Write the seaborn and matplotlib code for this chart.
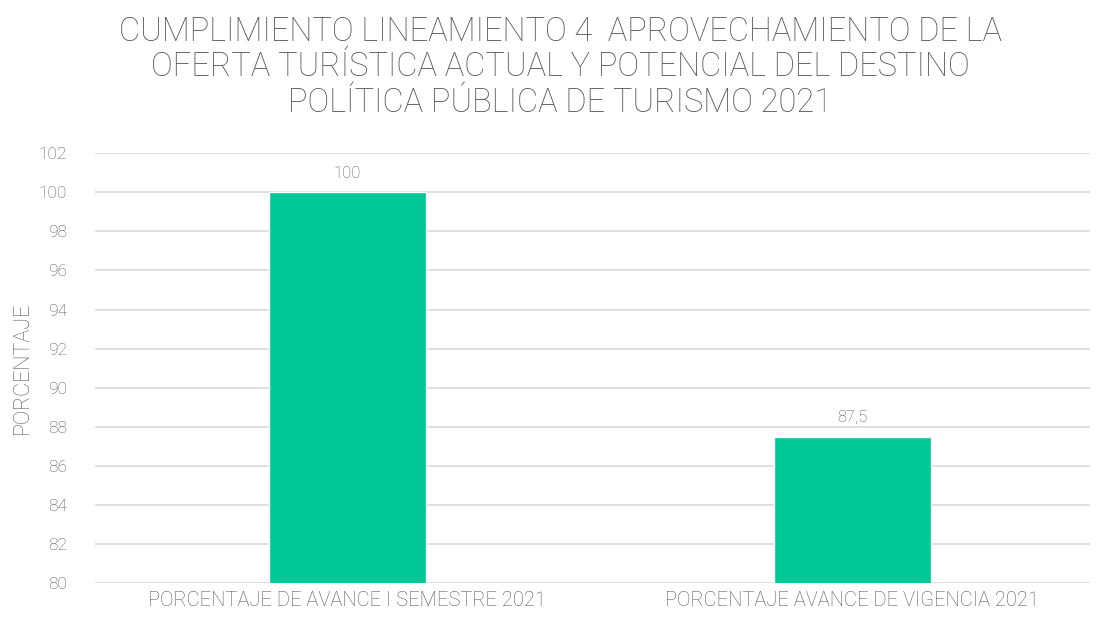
import pandas as pd
import matplotlib.pyplot as plt
import seaborn as sns

# data
categories = ["PORCENTAJE DE AVANCE I SEMESTRE 2021", "PORCENTAJE AVANCE DE VIGENCIA 2021"]
values = [100, 87.5]
value_labels = ["100", "87,5"]
y_ticks = list(range(80, 103, 2))

df = pd.DataFrame({"categoria": categories, "porcentaje": values})

sns.set_theme(style="white")
plt.rcParams["font.family"] = ["Roboto", "DejaVu Sans"]
plt.rcParams["font.weight"] = "light"

fig = plt.figure(figsize=(11.03, 6.23), dpi=100)
ax = fig.add_axes([0.086, 0.064, 0.902, 0.69])

sns.barplot(data=df, x="categoria", y="porcentaje", color="#00C896",
            width=0.31, saturation=1, ax=ax, zorder=3)

# labels above the bars
for i, (v, lab) in enumerate(zip(values, value_labels)):
    ax.text(i, v + 0.6, lab, ha="center", va="bottom", fontsize=12,
            color="#595959", fontweight="light")

ax.set_ylim(80, 102)
ax.set_yticks(y_ticks)
ax.set_xlim(-0.5, 1.47)
ax.yaxis.grid(True, color="#d9d9d9", linewidth=1.2, zorder=0)
for s in ax.spines.values():
    s.set_visible(False)
ax.tick_params(axis="both", length=0, labelsize=12.5, labelcolor="#595959")
ax.tick_params(axis="x", labelsize=14.5, pad=6)
ax.tick_params(axis="y", pad=20)
ax.set_xlabel("")
ax.set_ylabel("PORCENTAJE", fontsize=15.5, color="#595959", labelpad=4,
              fontweight="light")

fig.suptitle("CUMPLIMIENTO LINEAMIENTO 4  APROVECHAMIENTO DE LA\n"
             "OFERTA TURÍSTICA ACTUAL Y POTENCIAL DEL DESTINO\n"
             "POLÍTICA PÚBLICA DE TURISMO 2021",
             x=0.508, y=0.975, fontsize=23.5, color="#595959", linespacing=1.15,
             fontweight="light")

fig.savefig("out.png", dpi=100)
